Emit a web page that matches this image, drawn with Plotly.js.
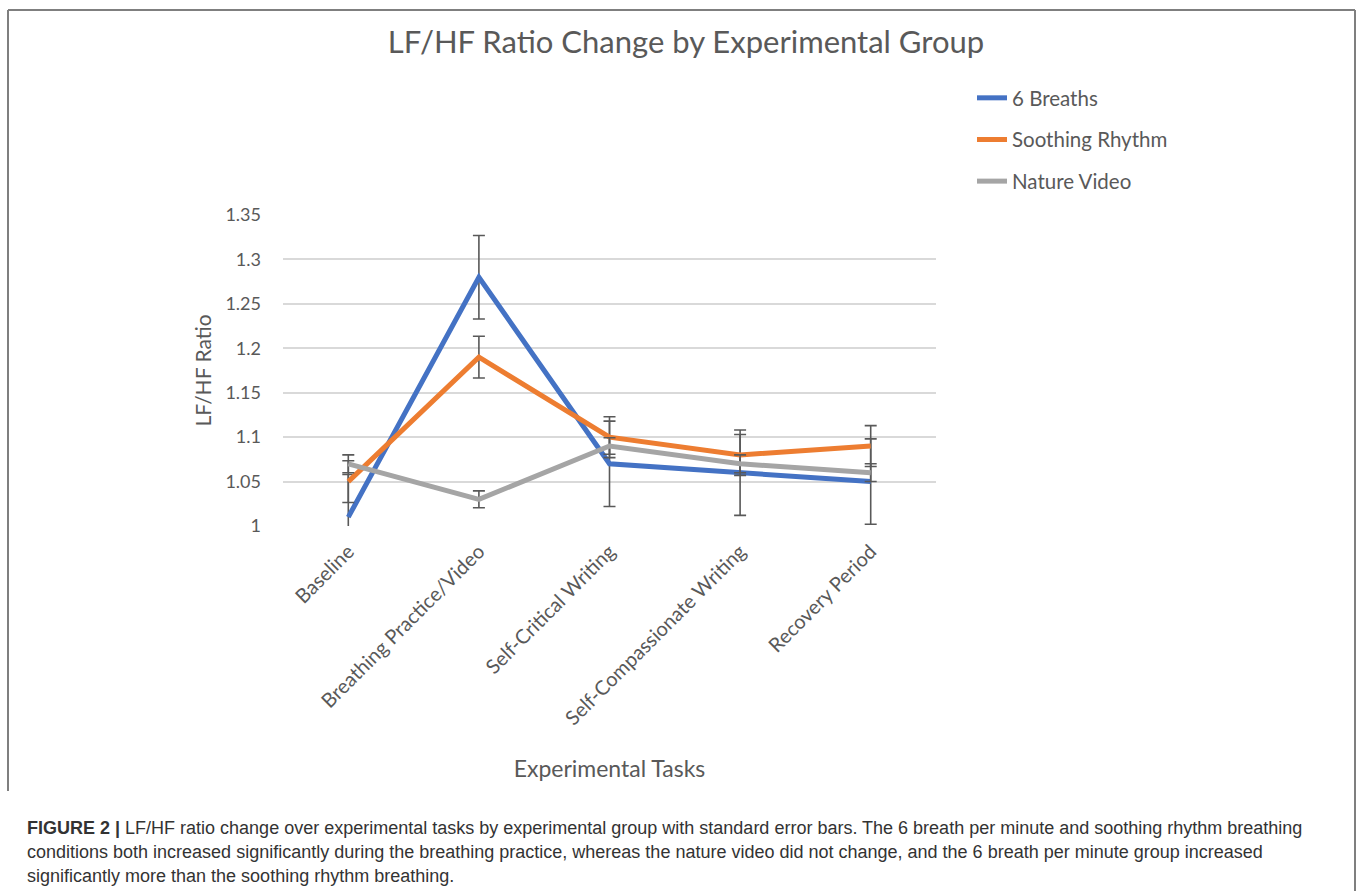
<!DOCTYPE html>
<html>
<head>
<meta charset="utf-8">
<script src="https://cdn.plot.ly/plotly-3.0.1.min.js"></script>
<style>
  html, body { margin: 0; padding: 0; background: #ffffff; }
  #chart { width: 1358px; height: 891px; }
</style>
</head>
<body>
<div id="chart"></div>
<script>
// ---- data ----
const categories = ['Baseline', 'Breathing Practice/Video', 'Self-Critical Writing', 'Self-Compassionate Writing', 'Recovery Period'];
const seriesNames = ['6 Breaths', 'Soothing Rhythm', 'Nature Video'];
const breaths6 = [1.01, 1.28, 1.07, 1.06, 1.05];
const breaths6SE = [0.048, 0.047, 0.048, 0.048, 0.048];
const soothing = [1.05, 1.19, 1.10, 1.08, 1.09];
const soothingSE = [0.0235, 0.0235, 0.023, 0.023, 0.023];
const nature = [1.07, 1.03, 1.09, 1.07, 1.06];
const natureSE = [0.01, 0.0095, 0.0093, 0.01, 0.01];
const yTickVals = [1, 1.05, 1.1, 1.15, 1.2, 1.25, 1.3, 1.35];
const yTickText = ['1', '1.05', '1.1', '1.15', '1.2', '1.25', '1.3', '1.35'];
const chartTitle = 'LF/HF Ratio Change by Experimental Group';
const xTitle = 'Experimental Tasks';
const yTitle = 'LF/HF Ratio';
const captionLines = [
  '<b>FIGURE 2 |</b> LF/HF ratio change over experimental tasks by experimental group with standard error bars. The 6 breath per minute and soothing rhythm breathing',
  'conditions both increased significantly during the breathing practice, whereas the nature video did not change, and the 6 breath per minute group increased',
  'significantly more than the soothing rhythm breathing.'
];

// ---- geometry ----
const W = 1358, H = 891;
const M = { l: 283, r: 422, t: 215, b: 365 };
const PW = W - M.l - M.r, PH = H - M.t - M.b;
const px = x => (x - M.l) / PW;
const py = y => (H - M.b - y) / PH;

const txt = '#595959';
const fontMain = 'Lato, "Open Sans", sans-serif';
const colors = ['#4472C4', '#ED7D31', '#A5A5A5'];
const values = [breaths6, soothing, nature];
const errs = [breaths6SE, soothingSE, natureSE];

const traces = values.map((v, i) => ({
  type: 'scatter',
  mode: 'lines',
  x: categories,
  y: v,
  name: seriesNames[i],
  legendgroup: 'g' + i,
  line: { color: colors[i], width: 5 },
  error_y: { type: 'data', array: errs[i], visible: true, color: '#595959', thickness: 1.6, width: 6 },
  hoverinfo: 'x+y+name'
}));

const frame = '#7f7f7f';
const shapes = [
  { type: 'line', xref: 'paper', yref: 'paper', x0: px(8), x1: px(1355), y0: py(10), y1: py(10), line: { color: frame, width: 2 } },
  { type: 'line', xref: 'paper', yref: 'paper', x0: px(8), x1: px(8), y0: py(10), y1: py(791), line: { color: frame, width: 2 } },
  { type: 'line', xref: 'paper', yref: 'paper', x0: px(1355), x1: px(1355), y0: py(10), y1: py(895), line: { color: frame, width: 2 } }
];

const annotations = captionLines.map((t, i) => ({
  xref: 'paper', yref: 'paper', x: px(25), y: py(828 + i * 24),
  xanchor: 'left', yanchor: 'middle', showarrow: false, align: 'left',
  text: t, font: { family: '"Liberation Sans", Arial, sans-serif', size: 18, color: '#333333' }
}));

const layout = {
  width: W, height: H,
  margin: M,
  paper_bgcolor: '#ffffff', plot_bgcolor: '#ffffff',
  title: { text: chartTitle, font: { family: fontMain, size: 31, color: txt }, x: 0.5 + 7 / W, xref: 'container', xanchor: 'center', y: 1 - 42 / H, yanchor: 'middle' },
  xaxis: {
    type: 'category', range: [-0.5, 4.5], showgrid: false, zeroline: false, showline: false,
    tickangle: -45, tickfont: { family: fontMain, size: 20, color: txt }, ticks: '',
    ticklabelstandoff: 9,
    title: { text: xTitle, font: { family: fontMain, size: 23, color: txt }, standoff: 32 },
    automargin: false, fixedrange: true
  },
  yaxis: {
    range: [1, 1.35], tickvals: yTickVals, ticktext: yTickText,
    showgrid: true, gridcolor: '#d9d9d9', gridwidth: 1.5, zeroline: false, showline: false,
    tickfont: { family: fontMain, size: 18, color: txt }, ticks: '', ticklabelstandoff: 21,
    title: { text: yTitle, font: { family: fontMain, size: 21, color: txt }, standoff: 8 },
    automargin: false, fixedrange: true
  },
  showlegend: true,
  legend: {
    x: px(972), y: py(78), xanchor: 'left', yanchor: 'top',
    font: { family: fontMain, size: 20.5, color: txt },
    tracegroupgap: 12, bgcolor: 'rgba(0,0,0,0)'
  },
  shapes: shapes,
  annotations: annotations
};

Plotly.newPlot('chart', traces, layout, { displayModeBar: false, staticPlot: false });
</script>
</body>
</html>
